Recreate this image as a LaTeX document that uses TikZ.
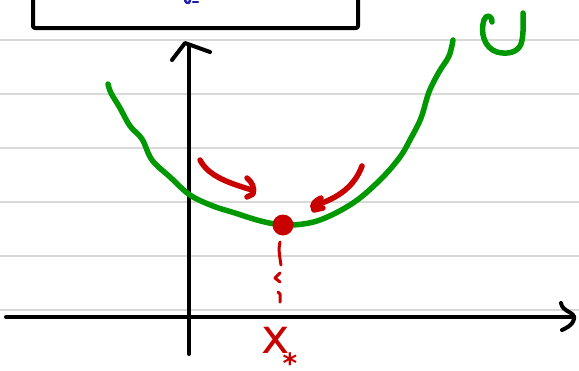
\documentclass[tikz,border=0pt]{standalone}
\usepackage{fontspec}
\setsansfont{DejaVu Sans}
\definecolor{rulegrey}{RGB}{216,216,216}
\definecolor{pengreen}{RGB}{0,152,0}
\definecolor{penred}{RGB}{200,0,0}
\definecolor{penblue}{RGB}{30,30,170}
\tikzset{
  ruled/.style={rulegrey, line width=1.6pt},
  ink/.style={black, line width=4pt, line cap=round, line join=round},
  gpen/.style={pengreen, line width=5.5pt, line cap=round, line join=round},
  rpen/.style={penred, line width=5.5pt, line cap=round, line join=round},
  bpen/.style={penblue, line width=2.5pt, line cap=round},
  redlabel/.style={penred, inner sep=0pt, font=\sffamily}
}
\begin{document}
\begin{tikzpicture}[x=1pt, y=-1pt]
\useasboundingbox (0,0) rectangle (579,370);
\fill[white] (0,0) rectangle (579,370);
% ruled paper lines
\foreach \yy in {40,94,148,202,256,310} \draw[ruled] (0,\yy) -- (579,\yy);
% top box (cut off)
\draw[ink, rounded corners=2pt] (33,-10) -- (33,28) -- (358,28) -- (358,-10);
% blue text fragments at top
\draw[bpen] (185,0.5) -- (187,3);
\draw[bpen] (190,0) -- (189,3);
\draw[bpen] (193,2) -- (198,2);
% axes
\coordinate (yb) at (189,354);
\coordinate (yt) at (189,45);
\coordinate (xl) at (6,317);
\coordinate (xr) at (572,317);
\draw[ink] (yb) -- (yt);
\draw[ink] (172,60) -- (185,43) -- (210,52);
\draw[ink] (xl) -- (xr);
\draw[ink] (561,303) .. controls (562,312) and (576,312) .. (574,319) .. controls (572,326) and (566,328) .. (562,330);
% green curve
\draw[gpen] plot[smooth, tension=0.6] coordinates {(108,84) (111,93) (120,108) (130,126) (142,139) (152,160) (170,177) (190,195) (213,206) (235,213) (257,220) (275,224) (293,225) (320,220) (353,203) (380,180) (400,157) (411,138) (421,118) (429,92) (439,72) (449,56) (453,40)};
% green U label
\draw[gpen] (492,22) .. controls (492,15) and (486,14) .. (484,20) .. controls (480,32) and (484,48) .. (497,52) .. controls (508,55) and (518,52) .. (521,44) .. controls (524,35) and (523,22) .. (523,13);
% red minimum point
\node[circle, fill=penred, minimum size=21pt, inner sep=0pt] (xmin) at (283,225) {};
% red dashed drop line
\draw[rpen, line width=3pt] (280,242) .. controls (278,250) and (280,258) .. (281,265);
\draw[rpen, line width=3pt] (280,273) -- (275,278) -- (280,282);
\draw[rpen, line width=3pt] (278,292) -- (280,294) -- (280,302);
% label x_*
\node[redlabel, font=\sffamily\fontsize{48}{48}\selectfont, anchor=base west] (xlab) at (261,353)
  {x\kern-7pt\smash{\raisebox{-20pt}{\fontsize{28}{28}\bfseries *}}};
% red arrows
\draw[rpen] (200,160) .. controls (208,175) and (225,182) .. (252,190);
\draw[rpen] (247,178) .. controls (252,182) and (255,188) .. (253,194) -- (247,197);
\draw[rpen] (362,166) .. controls (355,185) and (340,198) .. (313,206);
\draw[rpen] (321,198) .. controls (315,201) and (311,204) .. (314,210) -- (323,208);
\end{tikzpicture}
\end{document}
